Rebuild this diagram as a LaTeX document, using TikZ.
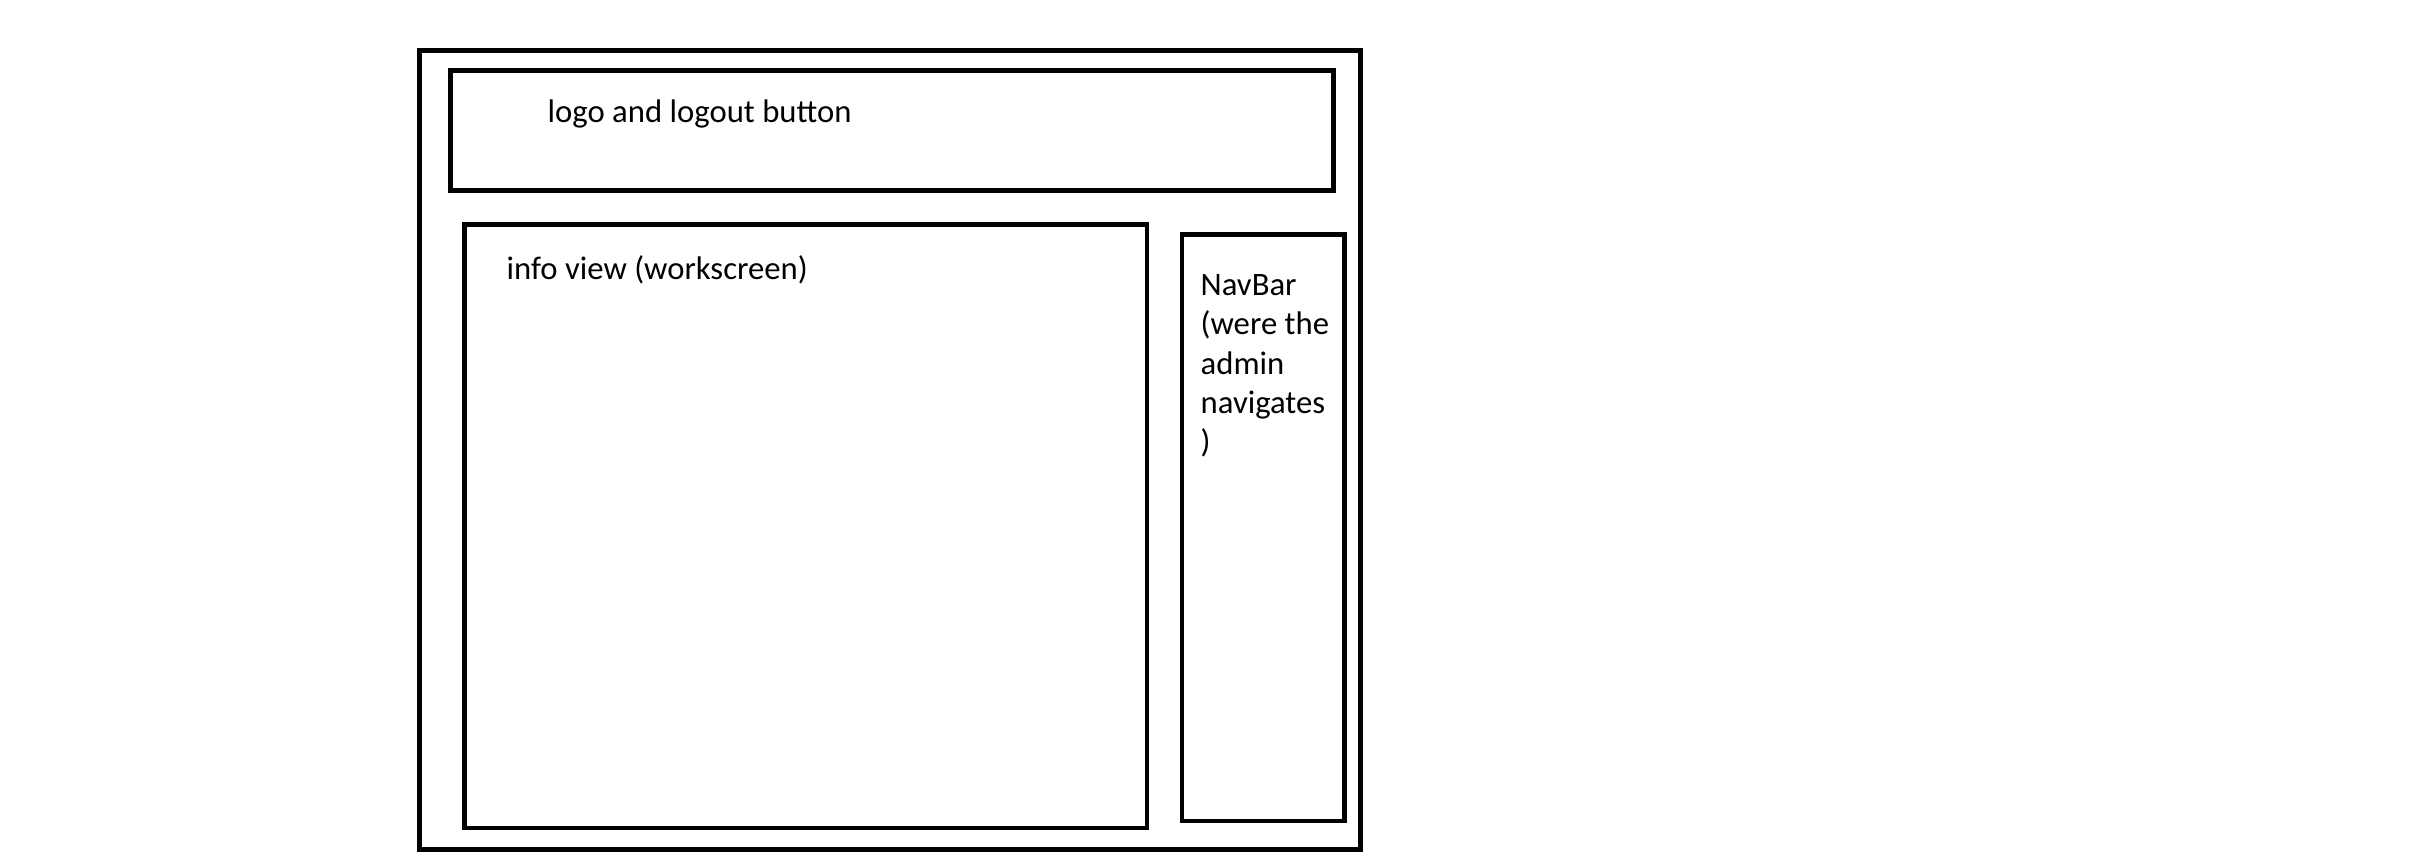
\documentclass[tikz,border=0pt]{standalone}
\usepackage{fontspec}
\setmainfont{Carlito}

\begin{document}
\begin{tikzpicture}[x=0.01cm,y=-0.01cm,box/.style={draw,line width=1.3pt,inner sep=0pt},
    lbl/.style={anchor=base west,inner sep=0pt,font=\fontsize{9.3}{11.2}\selectfont}]
                \useasboundingbox (0,0) rectangle (2414,864);
                % frame and the three panes
                \node[box, minimum width=9.41cm, minimum height=7.985cm] (screen) at (890,449.75) {};
                \node[box, minimum width=8.82cm, minimum height=1.2cm] (header) at (892,130.5) {};
                \node[box, minimum width=6.825cm, minimum height=6.035cm] (info) at (805.75,526.25) {};
                \node[box, minimum width=1.625cm, minimum height=5.865cm] (nav) at (1263.25,527.75) {};

                % labels (base of the nav label is its last line)
                \node[lbl] (headertext) at (547,123) {logo and logout button};
                \node[lbl] (infotext) at (506,280) {info view (workscreen)};
                \node[lbl, align=left] (navtext) at (1200,453) {NavBar\\(were the\\admin\\navigates\\)};
\end{tikzpicture}
\end{document}
